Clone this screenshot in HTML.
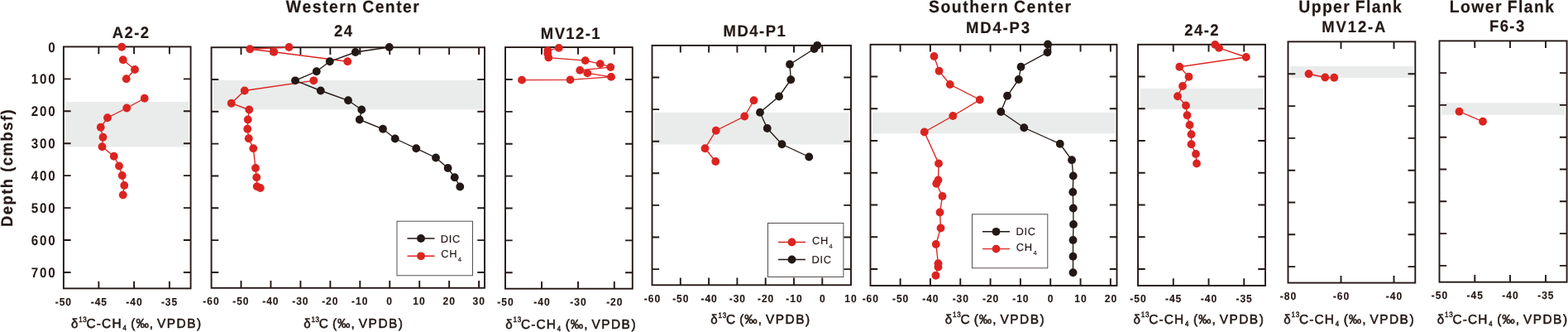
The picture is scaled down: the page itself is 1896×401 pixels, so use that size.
<!DOCTYPE html>
<html lang="en">
<head>
<meta charset="utf-8">
<title>Carbon isotope depth profiles</title>
<style>
html,body{margin:0;padding:0;background:#fff;}
body{width:1896px;height:401px;overflow:hidden;}
svg{display:block;font-family:"Liberation Sans",sans-serif;fill:#231815;font-kerning:none;}
text{white-space:pre;text-rendering:geometricPrecision;}
.b{font-weight:bold;stroke:#231815;stroke-width:0.2px;stroke-linejoin:round;}
.l{font-weight:normal;stroke:#231815;stroke-width:0.15px;}
.r.s{stroke-width:0.5px;}
.t{font-weight:bold;stroke:#231815;stroke-width:0.12px;}
.y{font-weight:bold;}
.r{font-weight:normal;stroke:#231815;stroke-width:0.55px;stroke-linejoin:round;}
</style>
</head>
<body>
<svg width="1896" height="401" viewBox="0 0 1896 401">
<rect width="1896" height="401" fill="#fff"/>
<rect x="79.5" y="123" width="148.8" height="54.4" fill="#eaeceb"/>
<rect x="76.9" y="56.45" width="153.7" height="291.95" fill="none" stroke="#231815" stroke-width="1.9"/>
<path d="M119.4 348.4v-8.7M119.4 56.45v8.7M162.1 348.4v-8.7M162.1 56.45v8.7M204.9 348.4v-8.7M204.9 56.45v8.7M76.9 95.38h8.7M230.6 95.38h-8.7M76.9 134.31h8.7M230.6 134.31h-8.7M76.9 173.24h8.7M230.6 173.24h-8.7M76.9 212.17h8.7M230.6 212.17h-8.7M76.9 251.1h8.7M230.6 251.1h-8.7M76.9 290.03h8.7M230.6 290.03h-8.7M76.9 328.96h8.7M230.6 328.96h-8.7" fill="none" stroke="#231815" stroke-width="1.9"/>
<polyline points="148.75,72.25 163,84 152.75,95.25" fill="none" stroke="#db2420" stroke-width="1.35"/>
<polyline points="174.75,118.75 153.25,130.5 130,142.25 121.75,153.75 124.5,165.75 123.5,177.25 137.75,188.75 144,200.5 147.75,212 150.25,224 148.75,235.5" fill="none" stroke="#db2420" stroke-width="1.35"/>
<circle cx="147.25" cy="56.75" r="4.9" fill="#db2420"/>
<circle cx="148.75" cy="72.25" r="4.9" fill="#db2420"/>
<circle cx="163" cy="84" r="4.9" fill="#db2420"/>
<circle cx="152.75" cy="95.25" r="4.9" fill="#db2420"/>
<circle cx="174.75" cy="118.75" r="4.9" fill="#db2420"/>
<circle cx="153.25" cy="130.5" r="4.9" fill="#db2420"/>
<circle cx="130" cy="142.25" r="4.9" fill="#db2420"/>
<circle cx="121.75" cy="153.75" r="4.9" fill="#db2420"/>
<circle cx="124.5" cy="165.75" r="4.9" fill="#db2420"/>
<circle cx="123.5" cy="177.25" r="4.9" fill="#db2420"/>
<circle cx="137.75" cy="188.75" r="4.9" fill="#db2420"/>
<circle cx="144" cy="200.5" r="4.9" fill="#db2420"/>
<circle cx="147.75" cy="212" r="4.9" fill="#db2420"/>
<circle cx="150.25" cy="224" r="4.9" fill="#db2420"/>
<circle cx="148.75" cy="235.5" r="4.9" fill="#db2420"/>
<text class="y" transform="translate(58.2 62.55) scale(0.9 1)" font-size="16.83" letter-spacing="0">0</text>
<text class="y" transform="translate(37.75 101.48) scale(0.9 1)" font-size="16.83" letter-spacing="2">100</text>
<text class="y" transform="translate(37.7 140.41) scale(0.9 1)" font-size="16.83" letter-spacing="2.03">200</text>
<text class="y" transform="translate(37.67 179.34) scale(0.9 1)" font-size="16.83" letter-spacing="2.04">300</text>
<text class="y" transform="translate(37.66 218.27) scale(0.9 1)" font-size="16.83" letter-spacing="2.05">400</text>
<text class="y" transform="translate(37.69 257.2) scale(0.9 1)" font-size="16.83" letter-spacing="2.03">500</text>
<text class="y" transform="translate(37.7 296.13) scale(0.9 1)" font-size="16.83" letter-spacing="2.03">600</text>
<text class="y" transform="translate(37.71 335.06) scale(0.9 1)" font-size="16.83" letter-spacing="2.02">700</text>
<text class="b" transform="translate(135.76 46) scale(0.94 1)" font-size="19.67" letter-spacing="1.52">A2-2</text>
<text class="t" transform="translate(66.82 368.6) scale(0.93 1)" font-size="12.98" letter-spacing="0.98">-50</text>
<text class="t" transform="translate(109.7 368.6) scale(0.93 1)" font-size="12.98" letter-spacing="0.98">-45</text>
<text class="t" transform="translate(152.37 368.6) scale(0.93 1)" font-size="12.98" letter-spacing="0.98">-40</text>
<text class="t" transform="translate(194.9 368.6) scale(0.93 1)" font-size="12.98" letter-spacing="0.98">-35</text>
<text class="r" transform="translate(85.96 396.1) scale(0.95 1)" font-size="15.9" letter-spacing="0">δ</text>
<text class="r s" transform="translate(95.2 388.5) scale(0.86 1)" font-size="9.3" letter-spacing="0.7">13</text>
<text class="r" transform="translate(104.53 396.1) scale(0.97 1)" font-size="15.9" letter-spacing="1.19">C-CH</text>
<text class="r s" transform="translate(148.43 399.3) scale(0.86 1)" font-size="9" letter-spacing="0">4</text>
<text class="r" transform="translate(158.34 396.1) scale(0.97 1)" font-size="15.9" letter-spacing="0.98">(‰,</text>
<text class="r" transform="translate(190.02 396.1) scale(0.97 1)" font-size="15.9" letter-spacing="1.55">VPDB)</text>
<text class="b" transform="translate(14.8 272.9) rotate(-90) scale(0.94 1)" x="-1.3" font-size="19.6" letter-spacing="1.6">Depth (cmbsf)</text>
<rect x="258" y="97" width="326" height="35.3" fill="#eaeceb"/>
<rect x="255.6" y="57.25" width="330.4" height="290.55" fill="none" stroke="#231815" stroke-width="1.9"/>
<path d="M291.5 347.8v-8.7M291.5 57.25v8.7M327.45 347.8v-8.7M327.45 57.25v8.7M363.4 347.8v-8.7M363.4 57.25v8.7M399.35 347.8v-8.7M399.35 57.25v8.7M435.3 347.8v-8.7M435.3 57.25v8.7M471.25 347.8v-8.7M471.25 57.25v8.7M507.2 347.8v-8.7M507.2 57.25v8.7M543.15 347.8v-8.7M543.15 57.25v8.7M579.1 347.8v-8.7M579.1 57.25v8.7M255.6 95.94h8.7M586 95.94h-8.7M255.6 134.78h8.7M586 134.78h-8.7M255.6 173.62h8.7M586 173.62h-8.7M255.6 212.46h8.7M586 212.46h-8.7M255.6 251.3h8.7M586 251.3h-8.7M255.6 290.14h8.7M586 290.14h-8.7M255.6 328.98h8.7M586 328.98h-8.7" fill="none" stroke="#231815" stroke-width="1.9"/>
<polyline points="349.5,57 302.25,59.25 331.25,62.75 420.25,74.25" fill="none" stroke="#db2420" stroke-width="1.35"/>
<polyline points="379.25,97.3 295.75,109.5 279.75,124.75 301.25,132.5 299.75,144.5 299.25,155.75 300.75,167.25 306.25,179.25 309,203 310.25,214.25 310.75,225.25 314.75,227" fill="none" stroke="#db2420" stroke-width="1.35"/>
<circle cx="349.5" cy="57" r="4.9" fill="#db2420"/>
<circle cx="302.25" cy="59.25" r="4.9" fill="#db2420"/>
<circle cx="331.25" cy="62.75" r="4.9" fill="#db2420"/>
<circle cx="420.25" cy="74.25" r="4.9" fill="#db2420"/>
<circle cx="379.25" cy="97.3" r="4.9" fill="#db2420"/>
<circle cx="295.75" cy="109.5" r="4.9" fill="#db2420"/>
<circle cx="279.75" cy="124.75" r="4.9" fill="#db2420"/>
<circle cx="301.25" cy="132.5" r="4.9" fill="#db2420"/>
<circle cx="299.75" cy="144.5" r="4.9" fill="#db2420"/>
<circle cx="299.25" cy="155.75" r="4.9" fill="#db2420"/>
<circle cx="300.75" cy="167.25" r="4.9" fill="#db2420"/>
<circle cx="306.25" cy="179.25" r="4.9" fill="#db2420"/>
<circle cx="309" cy="203" r="4.9" fill="#db2420"/>
<circle cx="310.25" cy="214.25" r="4.9" fill="#db2420"/>
<circle cx="310.75" cy="225.25" r="4.9" fill="#db2420"/>
<circle cx="314.75" cy="227" r="4.9" fill="#db2420"/>
<polyline points="470.75,57 429.75,63 398.75,74.25 382.75,86.25 357,97.3 387.75,109.5 421,121.25 437.25,132.5 434.75,144.5 463,155.75 477.75,167.5 503.25,179.25 527,190.5 541.6,203 549.75,214.25 556.25,225.5" fill="none" stroke="#231815" stroke-width="1.35"/>
<circle cx="470.75" cy="57" r="4.9" fill="#231815"/>
<circle cx="429.75" cy="63" r="4.9" fill="#231815"/>
<circle cx="398.75" cy="74.25" r="4.9" fill="#231815"/>
<circle cx="382.75" cy="86.25" r="4.9" fill="#231815"/>
<circle cx="357" cy="97.3" r="4.9" fill="#231815"/>
<circle cx="387.75" cy="109.5" r="4.9" fill="#231815"/>
<circle cx="421" cy="121.25" r="4.9" fill="#231815"/>
<circle cx="437.25" cy="132.5" r="4.9" fill="#231815"/>
<circle cx="434.75" cy="144.5" r="4.9" fill="#231815"/>
<circle cx="463" cy="155.75" r="4.9" fill="#231815"/>
<circle cx="477.75" cy="167.5" r="4.9" fill="#231815"/>
<circle cx="503.25" cy="179.25" r="4.9" fill="#231815"/>
<circle cx="527" cy="190.5" r="4.9" fill="#231815"/>
<circle cx="541.6" cy="203" r="4.9" fill="#231815"/>
<circle cx="549.75" cy="214.25" r="4.9" fill="#231815"/>
<circle cx="556.25" cy="225.5" r="4.9" fill="#231815"/>
<text class="b" transform="translate(345.82 14.9) scale(0.94 1)" font-size="20.6" letter-spacing="1.57" word-spacing="-1.28">Western Center</text>
<text class="b" transform="translate(403.93 44.1) scale(0.94 1)" font-size="19.67" letter-spacing="1.76">24</text>
<text class="t" transform="translate(245.37 368.05) scale(0.93 1)" font-size="12.98" letter-spacing="0.98">-60</text>
<text class="t" transform="translate(281.32 368.05) scale(0.93 1)" font-size="12.98" letter-spacing="0.98">-50</text>
<text class="t" transform="translate(317.27 368.05) scale(0.93 1)" font-size="12.98" letter-spacing="0.98">-40</text>
<text class="t" transform="translate(353.22 368.05) scale(0.93 1)" font-size="12.98" letter-spacing="0.98">-30</text>
<text class="t" transform="translate(389.17 368.05) scale(0.93 1)" font-size="12.98" letter-spacing="0.98">-20</text>
<text class="t" transform="translate(425.12 368.05) scale(0.93 1)" font-size="12.98" letter-spacing="0.98">-10</text>
<text class="t" transform="translate(467.35 368.05) scale(0.93 1)" font-size="12.98" letter-spacing="0">0</text>
<text class="t" transform="translate(499.32 368.05) scale(0.93 1)" font-size="12.98" letter-spacing="1.06">10</text>
<text class="t" transform="translate(535.44 368.05) scale(0.93 1)" font-size="12.98" letter-spacing="1.06">20</text>
<text class="t" transform="translate(571.46 368.05) scale(0.93 1)" font-size="12.98" letter-spacing="1.07">30</text>
<text class="r" transform="translate(367.16 396.1) scale(0.95 1)" font-size="15.9" letter-spacing="0">δ</text>
<text class="r s" transform="translate(376.4 388.5) scale(0.86 1)" font-size="9.3" letter-spacing="0.7">13</text>
<text class="r" transform="translate(385.73 396.1) scale(0.97 1)" font-size="15.9" letter-spacing="0">C</text>
<text class="r" transform="translate(402.04 396.1) scale(0.97 1)" font-size="15.9" letter-spacing="0.98">(‰,</text>
<text class="r" transform="translate(433.82 396.1) scale(0.97 1)" font-size="15.9" letter-spacing="1.55">VPDB)</text>
<rect x="480" y="267.2" width="91.5" height="65.6" fill="#fff" stroke="#4c4644" stroke-width="0.95"/>
<path d="M492.5 288H525.5" stroke="#231815" stroke-width="1.4" fill="none"/>
<circle cx="509" cy="288" r="4.9" fill="#231815"/>
<text class="l" x="532.84" y="292.8" font-size="12.9" letter-spacing="0.65">DIC</text>
<path d="M492.5 309.3H525.5" stroke="#db2420" stroke-width="1.4" fill="none"/>
<circle cx="509" cy="309.3" r="4.9" fill="#db2420"/>
<text class="l" x="533.25" y="311.2" font-size="12.9" letter-spacing="0.65">CH<tspan font-size="7.4" dx="0.6" dy="4.6">4</tspan></text>
<rect x="611" y="57.1" width="153.8" height="291.6" fill="none" stroke="#231815" stroke-width="1.9"/>
<path d="M655 348.7v-8.7M655 57.1v8.7M699 348.7v-8.7M699 57.1v8.7M742.8 348.7v-8.7M742.8 57.1v8.7M611 95.98h8.7M764.8 95.98h-8.7M611 134.86h8.7M764.8 134.86h-8.7M611 173.74h8.7M764.8 173.74h-8.7M611 212.62h8.7M764.8 212.62h-8.7M611 251.5h8.7M764.8 251.5h-8.7M611 290.38h8.7M764.8 290.38h-8.7M611 329.26h8.7M764.8 329.26h-8.7" fill="none" stroke="#231815" stroke-width="1.9"/>
<polyline points="675.75,57.9 662.3,61.1 662.3,64.9 663.25,69.6 707.75,73.1 725.75,77.1 738.25,81.1 701.25,84.9 710.25,88.4 739,92.9 689.5,96.4 631,96.65" fill="none" stroke="#db2420" stroke-width="1.35"/>
<circle cx="675.75" cy="57.9" r="4.9" fill="#db2420"/>
<circle cx="662.3" cy="61.1" r="4.9" fill="#db2420"/>
<circle cx="662.3" cy="64.9" r="4.9" fill="#db2420"/>
<circle cx="663.25" cy="69.6" r="4.9" fill="#db2420"/>
<circle cx="707.75" cy="73.1" r="4.9" fill="#db2420"/>
<circle cx="725.75" cy="77.1" r="4.9" fill="#db2420"/>
<circle cx="738.25" cy="81.1" r="4.9" fill="#db2420"/>
<circle cx="701.25" cy="84.9" r="4.9" fill="#db2420"/>
<circle cx="710.25" cy="88.4" r="4.9" fill="#db2420"/>
<circle cx="739" cy="92.9" r="4.9" fill="#db2420"/>
<circle cx="689.5" cy="96.4" r="4.9" fill="#db2420"/>
<circle cx="631" cy="96.65" r="4.9" fill="#db2420"/>
<text class="b" transform="translate(653.83 46.7) scale(0.94 1)" font-size="19.67" letter-spacing="1.5">MV12-1</text>
<text class="t" transform="translate(601.37 369.4) scale(0.93 1)" font-size="12.98" letter-spacing="0.98">-50</text>
<text class="t" transform="translate(645.37 369.4) scale(0.93 1)" font-size="12.98" letter-spacing="0.98">-40</text>
<text class="t" transform="translate(689.37 369.4) scale(0.93 1)" font-size="12.98" letter-spacing="0.98">-30</text>
<text class="t" transform="translate(733.17 369.4) scale(0.93 1)" font-size="12.98" letter-spacing="0.98">-20</text>
<text class="r" transform="translate(611.36 397) scale(0.95 1)" font-size="15.9" letter-spacing="0">δ</text>
<text class="r s" transform="translate(620.6 389.4) scale(0.86 1)" font-size="9.3" letter-spacing="0.7">13</text>
<text class="r" transform="translate(629.93 397) scale(0.97 1)" font-size="15.9" letter-spacing="1.19">C-CH</text>
<text class="r s" transform="translate(673.83 400.2) scale(0.86 1)" font-size="9" letter-spacing="0">4</text>
<text class="r" transform="translate(683.74 397) scale(0.97 1)" font-size="15.9" letter-spacing="0.98">(‰,</text>
<text class="r" transform="translate(715.42 397) scale(0.97 1)" font-size="15.9" letter-spacing="1.55">VPDB)</text>
<rect x="791" y="135.75" width="235.5" height="38.75" fill="#eaeceb"/>
<rect x="788.5" y="54.9" width="240.5" height="289.4" fill="none" stroke="#231815" stroke-width="1.9"/>
<path d="M822.8 344.3v-8.7M822.8 54.9v8.7M857.1 344.3v-8.7M857.1 54.9v8.7M891.4 344.3v-8.7M891.4 54.9v8.7M925.7 344.3v-8.7M925.7 54.9v8.7M960 344.3v-8.7M960 54.9v8.7M994.3 344.3v-8.7M994.3 54.9v8.7M788.5 93.5h8.7M1029 93.5h-8.7M788.5 132.1h8.7M1029 132.1h-8.7M788.5 170.7h8.7M1029 170.7h-8.7M788.5 209.3h8.7M1029 209.3h-8.7M788.5 247.9h8.7M1029 247.9h-8.7M788.5 286.5h8.7M1029 286.5h-8.7M788.5 325.1h8.7M1029 325.1h-8.7" fill="none" stroke="#231815" stroke-width="1.9"/>
<polyline points="911.5,121.25 900.25,140.5 865.75,157.75 852.5,179.25 865.25,195" fill="none" stroke="#db2420" stroke-width="1.35"/>
<circle cx="911.5" cy="121.25" r="4.9" fill="#db2420"/>
<circle cx="900.25" cy="140.5" r="4.9" fill="#db2420"/>
<circle cx="865.75" cy="157.75" r="4.9" fill="#db2420"/>
<circle cx="852.5" cy="179.25" r="4.9" fill="#db2420"/>
<circle cx="865.25" cy="195" r="4.9" fill="#db2420"/>
<polyline points="988.25,54.8 984.5,59.1 955,77.75 956.25,96.25 942,116.5 919,135.75 927.75,155 945.5,174.25 978.25,189.5" fill="none" stroke="#231815" stroke-width="1.35"/>
<circle cx="988.25" cy="54.8" r="4.9" fill="#231815"/>
<circle cx="984.5" cy="59.1" r="4.9" fill="#231815"/>
<circle cx="955" cy="77.75" r="4.9" fill="#231815"/>
<circle cx="956.25" cy="96.25" r="4.9" fill="#231815"/>
<circle cx="942" cy="116.5" r="4.9" fill="#231815"/>
<circle cx="919" cy="135.75" r="4.9" fill="#231815"/>
<circle cx="927.75" cy="155" r="4.9" fill="#231815"/>
<circle cx="945.5" cy="174.25" r="4.9" fill="#231815"/>
<circle cx="978.25" cy="189.5" r="4.9" fill="#231815"/>
<text class="b" transform="translate(874.61 44.2) scale(0.94 1)" font-size="19.67" letter-spacing="1.58">MD4-P1</text>
<text class="t" transform="translate(778.87 364.85) scale(0.93 1)" font-size="12.98" letter-spacing="0.98">-60</text>
<text class="t" transform="translate(813.17 364.85) scale(0.93 1)" font-size="12.98" letter-spacing="0.98">-50</text>
<text class="t" transform="translate(847.47 364.85) scale(0.93 1)" font-size="12.98" letter-spacing="0.98">-40</text>
<text class="t" transform="translate(881.77 364.85) scale(0.93 1)" font-size="12.98" letter-spacing="0.98">-30</text>
<text class="t" transform="translate(916.07 364.85) scale(0.93 1)" font-size="12.98" letter-spacing="0.98">-20</text>
<text class="t" transform="translate(950.37 364.85) scale(0.93 1)" font-size="12.98" letter-spacing="0.98">-10</text>
<text class="t" transform="translate(990.95 364.85) scale(0.93 1)" font-size="12.98" letter-spacing="0">0</text>
<text class="t" transform="translate(1021.27 364.85) scale(0.93 1)" font-size="12.98" letter-spacing="1.06">10</text>
<text class="r" transform="translate(859.36 391.4) scale(0.95 1)" font-size="15.9" letter-spacing="0">δ</text>
<text class="r s" transform="translate(868.6 383.8) scale(0.86 1)" font-size="9.3" letter-spacing="0.7">13</text>
<text class="r" transform="translate(877.93 391.4) scale(0.97 1)" font-size="15.9" letter-spacing="0">C</text>
<text class="r" transform="translate(894.24 391.4) scale(0.97 1)" font-size="15.9" letter-spacing="0.98">(‰,</text>
<text class="r" transform="translate(926.02 391.4) scale(0.97 1)" font-size="15.9" letter-spacing="1.55">VPDB)</text>
<rect x="928.5" y="269.5" width="91.4" height="65" fill="#fff" stroke="#4c4644" stroke-width="0.95"/>
<path d="M941 292.5H974" stroke="#db2420" stroke-width="1.4" fill="none"/>
<circle cx="957.5" cy="292.5" r="4.9" fill="#db2420"/>
<text class="l" x="981.96" y="295" font-size="12.9" letter-spacing="0.65">CH<tspan font-size="7.4" dx="0.6" dy="4.6">4</tspan></text>
<path d="M941 313.5H974" stroke="#231815" stroke-width="1.4" fill="none"/>
<circle cx="957.5" cy="313.5" r="4.9" fill="#231815"/>
<text class="l" x="981.54" y="318.2" font-size="12.9" letter-spacing="0.65">DIC</text>
<rect x="1055" y="135.75" width="293" height="25.5" fill="#eaeceb"/>
<rect x="1052.5" y="53.8" width="298" height="291.2" fill="none" stroke="#231815" stroke-width="1.9"/>
<path d="M1088.62 345v-8.7M1088.62 53.8v8.7M1124.94 345v-8.7M1124.94 53.8v8.7M1161.26 345v-8.7M1161.26 53.8v8.7M1197.58 345v-8.7M1197.58 53.8v8.7M1233.9 345v-8.7M1233.9 53.8v8.7M1270.22 345v-8.7M1270.22 53.8v8.7M1306.54 345v-8.7M1306.54 53.8v8.7M1342.86 345v-8.7M1342.86 53.8v8.7M1052.5 92.55h8.7M1350.5 92.55h-8.7M1052.5 131.3h8.7M1350.5 131.3h-8.7M1052.5 170.05h8.7M1350.5 170.05h-8.7M1052.5 208.8h8.7M1350.5 208.8h-8.7M1052.5 247.55h8.7M1350.5 247.55h-8.7M1052.5 286.3h8.7M1350.5 286.3h-8.7M1052.5 325.05h8.7M1350.5 325.05h-8.7" fill="none" stroke="#231815" stroke-width="1.9"/>
<polyline points="1129.5,68 1135.5,85.75 1148.75,102 1184.75,120.5 1152.25,140 1117.75,159.5 1135,197.5 1134.5,217.5 1132.25,221.75 1139.5,237 1136.5,256.5 1137.5,275.5 1131.75,295 1134.5,318.25 1134.5,322.5 1131.5,332.75" fill="none" stroke="#db2420" stroke-width="1.35"/>
<circle cx="1129.5" cy="68" r="4.9" fill="#db2420"/>
<circle cx="1135.5" cy="85.75" r="4.9" fill="#db2420"/>
<circle cx="1148.75" cy="102" r="4.9" fill="#db2420"/>
<circle cx="1184.75" cy="120.5" r="4.9" fill="#db2420"/>
<circle cx="1152.25" cy="140" r="4.9" fill="#db2420"/>
<circle cx="1117.75" cy="159.5" r="4.9" fill="#db2420"/>
<circle cx="1135" cy="197.5" r="4.9" fill="#db2420"/>
<circle cx="1134.5" cy="217.5" r="4.9" fill="#db2420"/>
<circle cx="1132.25" cy="221.75" r="4.9" fill="#db2420"/>
<circle cx="1139.5" cy="237" r="4.9" fill="#db2420"/>
<circle cx="1136.5" cy="256.5" r="4.9" fill="#db2420"/>
<circle cx="1137.5" cy="275.5" r="4.9" fill="#db2420"/>
<circle cx="1131.75" cy="295" r="4.9" fill="#db2420"/>
<circle cx="1134.5" cy="318.25" r="4.9" fill="#db2420"/>
<circle cx="1134.5" cy="322.5" r="4.9" fill="#db2420"/>
<circle cx="1131.5" cy="332.75" r="4.9" fill="#db2420"/>
<polyline points="1267,53.5 1266.5,63.25 1234.5,80.75 1231.75,96 1218,115.75 1210.25,135 1238.25,154.25 1281.75,173.75 1296,193.25 1297.75,212.5 1297.25,232 1297.75,251.5 1298,271 1297.5,290 1297.5,309.75 1297.5,329.25" fill="none" stroke="#231815" stroke-width="1.35"/>
<circle cx="1267" cy="53.5" r="4.9" fill="#231815"/>
<circle cx="1266.5" cy="63.25" r="4.9" fill="#231815"/>
<circle cx="1234.5" cy="80.75" r="4.9" fill="#231815"/>
<circle cx="1231.75" cy="96" r="4.9" fill="#231815"/>
<circle cx="1218" cy="115.75" r="4.9" fill="#231815"/>
<circle cx="1210.25" cy="135" r="4.9" fill="#231815"/>
<circle cx="1238.25" cy="154.25" r="4.9" fill="#231815"/>
<circle cx="1281.75" cy="173.75" r="4.9" fill="#231815"/>
<circle cx="1296" cy="193.25" r="4.9" fill="#231815"/>
<circle cx="1297.75" cy="212.5" r="4.9" fill="#231815"/>
<circle cx="1297.25" cy="232" r="4.9" fill="#231815"/>
<circle cx="1297.75" cy="251.5" r="4.9" fill="#231815"/>
<circle cx="1298" cy="271" r="4.9" fill="#231815"/>
<circle cx="1297.5" cy="290" r="4.9" fill="#231815"/>
<circle cx="1297.5" cy="309.75" r="4.9" fill="#231815"/>
<circle cx="1297.5" cy="329.25" r="4.9" fill="#231815"/>
<text class="b" transform="translate(1122.97 15.1) scale(0.94 1)" font-size="20.6" letter-spacing="1.65" word-spacing="-1.28">Southern Center</text>
<text class="b" transform="translate(1167.96 39.8) scale(0.94 1)" font-size="19.67" letter-spacing="1.97">MD4-P3</text>
<text class="t" transform="translate(1042.67 364.9) scale(0.93 1)" font-size="12.98" letter-spacing="0.98">-60</text>
<text class="t" transform="translate(1078.99 364.9) scale(0.93 1)" font-size="12.98" letter-spacing="0.98">-50</text>
<text class="t" transform="translate(1115.31 364.9) scale(0.93 1)" font-size="12.98" letter-spacing="0.98">-40</text>
<text class="t" transform="translate(1151.63 364.9) scale(0.93 1)" font-size="12.98" letter-spacing="0.98">-30</text>
<text class="t" transform="translate(1187.95 364.9) scale(0.93 1)" font-size="12.98" letter-spacing="0.98">-20</text>
<text class="t" transform="translate(1224.27 364.9) scale(0.93 1)" font-size="12.98" letter-spacing="0.98">-10</text>
<text class="t" transform="translate(1266.87 364.9) scale(0.93 1)" font-size="12.98" letter-spacing="0">0</text>
<text class="t" transform="translate(1299.21 364.9) scale(0.93 1)" font-size="12.98" letter-spacing="1.06">10</text>
<text class="t" transform="translate(1335.7 364.9) scale(0.93 1)" font-size="12.98" letter-spacing="1.06">20</text>
<text class="r" transform="translate(1142.86 390.8) scale(0.95 1)" font-size="15.9" letter-spacing="0">δ</text>
<text class="r s" transform="translate(1152.1 383.2) scale(0.86 1)" font-size="9.3" letter-spacing="0.7">13</text>
<text class="r" transform="translate(1161.43 390.8) scale(0.97 1)" font-size="15.9" letter-spacing="0">C</text>
<text class="r" transform="translate(1177.74 390.8) scale(0.97 1)" font-size="15.9" letter-spacing="0.98">(‰,</text>
<text class="r" transform="translate(1209.52 390.8) scale(0.97 1)" font-size="15.9" letter-spacing="1.55">VPDB)</text>
<rect x="1175.5" y="258.8" width="91.3" height="65" fill="#fff" stroke="#4c4644" stroke-width="0.95"/>
<path d="M1188 279.8H1221" stroke="#231815" stroke-width="1.4" fill="none"/>
<circle cx="1204.5" cy="279.8" r="4.9" fill="#231815"/>
<text class="l" x="1228.44" y="283.9" font-size="12.9" letter-spacing="0.65">DIC</text>
<path d="M1188 300.6H1221" stroke="#db2420" stroke-width="1.4" fill="none"/>
<circle cx="1204.5" cy="300.6" r="4.9" fill="#db2420"/>
<text class="l" x="1228.86" y="303" font-size="12.9" letter-spacing="0.65">CH<tspan font-size="7.4" dx="0.6" dy="4.6">4</tspan></text>
<rect x="1379" y="106.75" width="148" height="25" fill="#eaeceb"/>
<rect x="1376" y="53.8" width="154" height="291.2" fill="none" stroke="#231815" stroke-width="1.9"/>
<path d="M1418.75 345v-8.7M1418.75 53.8v8.7M1461.5 345v-8.7M1461.5 53.8v8.7M1504.25 345v-8.7M1504.25 53.8v8.7M1376 92.55h8.7M1530 92.55h-8.7M1376 131.3h8.7M1530 131.3h-8.7M1376 170.05h8.7M1530 170.05h-8.7M1376 208.8h8.7M1530 208.8h-8.7M1376 247.55h8.7M1530 247.55h-8.7M1376 286.3h8.7M1530 286.3h-8.7M1376 325.05h8.7M1530 325.05h-8.7" fill="none" stroke="#231815" stroke-width="1.9"/>
<polyline points="1469.25,53.9 1474,57.9 1506.75,69 1426.25,80.75 1437.5,92.75 1430,104 1424,116.25 1434,127.5 1435.5,139.25 1438.5,151 1440.5,162.25 1440.5,174.25 1446,186 1447,197.5" fill="none" stroke="#db2420" stroke-width="1.35"/>
<circle cx="1469.25" cy="53.9" r="4.9" fill="#db2420"/>
<circle cx="1474" cy="57.9" r="4.9" fill="#db2420"/>
<circle cx="1506.75" cy="69" r="4.9" fill="#db2420"/>
<circle cx="1426.25" cy="80.75" r="4.9" fill="#db2420"/>
<circle cx="1437.5" cy="92.75" r="4.9" fill="#db2420"/>
<circle cx="1430" cy="104" r="4.9" fill="#db2420"/>
<circle cx="1424" cy="116.25" r="4.9" fill="#db2420"/>
<circle cx="1434" cy="127.5" r="4.9" fill="#db2420"/>
<circle cx="1435.5" cy="139.25" r="4.9" fill="#db2420"/>
<circle cx="1438.5" cy="151" r="4.9" fill="#db2420"/>
<circle cx="1440.5" cy="162.25" r="4.9" fill="#db2420"/>
<circle cx="1440.5" cy="174.25" r="4.9" fill="#db2420"/>
<circle cx="1446" cy="186" r="4.9" fill="#db2420"/>
<circle cx="1447" cy="197.5" r="4.9" fill="#db2420"/>
<text class="b" transform="translate(1432.37 42.8) scale(0.94 1)" font-size="19.67" letter-spacing="1.48">24-2</text>
<text class="t" transform="translate(1366.37 365.3) scale(0.93 1)" font-size="12.98" letter-spacing="0.98">-50</text>
<text class="t" transform="translate(1409.05 365.3) scale(0.93 1)" font-size="12.98" letter-spacing="0.98">-45</text>
<text class="t" transform="translate(1451.87 365.3) scale(0.93 1)" font-size="12.98" letter-spacing="0.98">-40</text>
<text class="t" transform="translate(1494.55 365.3) scale(0.93 1)" font-size="12.98" letter-spacing="0.98">-35</text>
<text class="r" transform="translate(1370.61 390.7) scale(0.95 1)" font-size="15.9" letter-spacing="0">δ</text>
<text class="r s" transform="translate(1379.85 383.1) scale(0.86 1)" font-size="9.3" letter-spacing="0.7">13</text>
<text class="r" transform="translate(1389.18 390.7) scale(0.97 1)" font-size="15.9" letter-spacing="1.19">C-CH</text>
<text class="r s" transform="translate(1433.08 393.9) scale(0.86 1)" font-size="9" letter-spacing="0">4</text>
<text class="r" transform="translate(1442.99 390.7) scale(0.97 1)" font-size="15.9" letter-spacing="0.98">(‰,</text>
<text class="r" transform="translate(1474.67 390.7) scale(0.97 1)" font-size="15.9" letter-spacing="1.55">VPDB)</text>
<rect x="1560" y="80" width="149" height="14" fill="#eaeceb"/>
<rect x="1557.5" y="50.35" width="153.8" height="291.25" fill="none" stroke="#231815" stroke-width="1.9"/>
<path d="M1621.5 341.6v-8.7M1621.5 50.35v8.7M1685.5 341.6v-8.7M1685.5 50.35v8.7M1557.5 89.3h8.7M1711.3 89.3h-8.7M1557.5 128.1h8.7M1711.3 128.1h-8.7M1557.5 166.9h8.7M1711.3 166.9h-8.7M1557.5 205.7h8.7M1711.3 205.7h-8.7M1557.5 244.5h8.7M1711.3 244.5h-8.7M1557.5 283.3h8.7M1711.3 283.3h-8.7M1557.5 322.1h8.7M1711.3 322.1h-8.7" fill="none" stroke="#231815" stroke-width="1.9"/>
<polyline points="1582.5,89.25 1602.25,93.5 1613.25,93.75" fill="none" stroke="#db2420" stroke-width="1.35"/>
<circle cx="1582.5" cy="89.25" r="4.9" fill="#db2420"/>
<circle cx="1602.25" cy="93.5" r="4.9" fill="#db2420"/>
<circle cx="1613.25" cy="93.75" r="4.9" fill="#db2420"/>
<text class="b" transform="translate(1570.29 15.2) scale(0.94 1)" font-size="20.6" letter-spacing="1.48" word-spacing="-1.28">Upper Flank</text>
<text class="b" transform="translate(1598.28 39.3) scale(0.94 1)" font-size="19.67" letter-spacing="1.99">MV12-A</text>
<text class="t" transform="translate(1547.87 361.9) scale(0.93 1)" font-size="12.98" letter-spacing="0.98">-80</text>
<text class="t" transform="translate(1611.87 361.9) scale(0.93 1)" font-size="12.98" letter-spacing="0.98">-60</text>
<text class="t" transform="translate(1675.87 361.9) scale(0.93 1)" font-size="12.98" letter-spacing="0.98">-40</text>
<text class="r" transform="translate(1552.36 391) scale(0.95 1)" font-size="15.9" letter-spacing="0">δ</text>
<text class="r s" transform="translate(1561.6 383.4) scale(0.86 1)" font-size="9.3" letter-spacing="0.7">13</text>
<text class="r" transform="translate(1570.93 391) scale(0.97 1)" font-size="15.9" letter-spacing="1.19">C-CH</text>
<text class="r s" transform="translate(1614.83 394.2) scale(0.86 1)" font-size="9" letter-spacing="0">4</text>
<text class="r" transform="translate(1624.74 391) scale(0.97 1)" font-size="15.9" letter-spacing="0.98">(‰,</text>
<text class="r" transform="translate(1656.42 391) scale(0.97 1)" font-size="15.9" letter-spacing="1.55">VPDB)</text>
<rect x="1743" y="124.25" width="149" height="14.5" fill="#eaeceb"/>
<rect x="1740.5" y="49.4" width="154.1" height="291.3" fill="none" stroke="#231815" stroke-width="1.9"/>
<path d="M1783.3 340.7v-8.7M1783.3 49.4v8.7M1826 340.7v-8.7M1826 49.4v8.7M1869 340.7v-8.7M1869 49.4v8.7M1740.5 88.1h8.7M1894.6 88.1h-8.7M1740.5 126.9h8.7M1894.6 126.9h-8.7M1740.5 165.7h8.7M1894.6 165.7h-8.7M1740.5 204.5h8.7M1894.6 204.5h-8.7M1740.5 243.3h8.7M1894.6 243.3h-8.7M1740.5 282.1h8.7M1894.6 282.1h-8.7M1740.5 320.9h8.7M1894.6 320.9h-8.7" fill="none" stroke="#231815" stroke-width="1.9"/>
<polyline points="1764.5,134.75 1793,146.75" fill="none" stroke="#db2420" stroke-width="1.35"/>
<circle cx="1764.5" cy="134.75" r="4.9" fill="#db2420"/>
<circle cx="1793" cy="146.75" r="4.9" fill="#db2420"/>
<text class="b" transform="translate(1752.72 15.2) scale(0.94 1)" font-size="20.6" letter-spacing="1.56" word-spacing="-1.28">Lower Flank</text>
<text class="b" transform="translate(1801.01 38) scale(0.94 1)" font-size="19.67" letter-spacing="1.48">F6-3</text>
<text class="t" transform="translate(1730.87 361.3) scale(0.93 1)" font-size="12.98" letter-spacing="0.98">-50</text>
<text class="t" transform="translate(1773.6 361.3) scale(0.93 1)" font-size="12.98" letter-spacing="0.98">-45</text>
<text class="t" transform="translate(1816.37 361.3) scale(0.93 1)" font-size="12.98" letter-spacing="0.98">-40</text>
<text class="t" transform="translate(1859.3 361.3) scale(0.93 1)" font-size="12.98" letter-spacing="0.98">-35</text>
<text class="r" transform="translate(1737.86 391) scale(0.95 1)" font-size="15.9" letter-spacing="0">δ</text>
<text class="r s" transform="translate(1747.1 383.4) scale(0.86 1)" font-size="9.3" letter-spacing="0.7">13</text>
<text class="r" transform="translate(1756.43 391) scale(0.97 1)" font-size="15.9" letter-spacing="1.19">C-CH</text>
<text class="r s" transform="translate(1800.33 394.2) scale(0.86 1)" font-size="9" letter-spacing="0">4</text>
<text class="r" transform="translate(1810.24 391) scale(0.97 1)" font-size="15.9" letter-spacing="0.98">(‰,</text>
<text class="r" transform="translate(1841.92 391) scale(0.97 1)" font-size="15.9" letter-spacing="1.55">VPDB)</text>
</svg>
</body>
</html>
